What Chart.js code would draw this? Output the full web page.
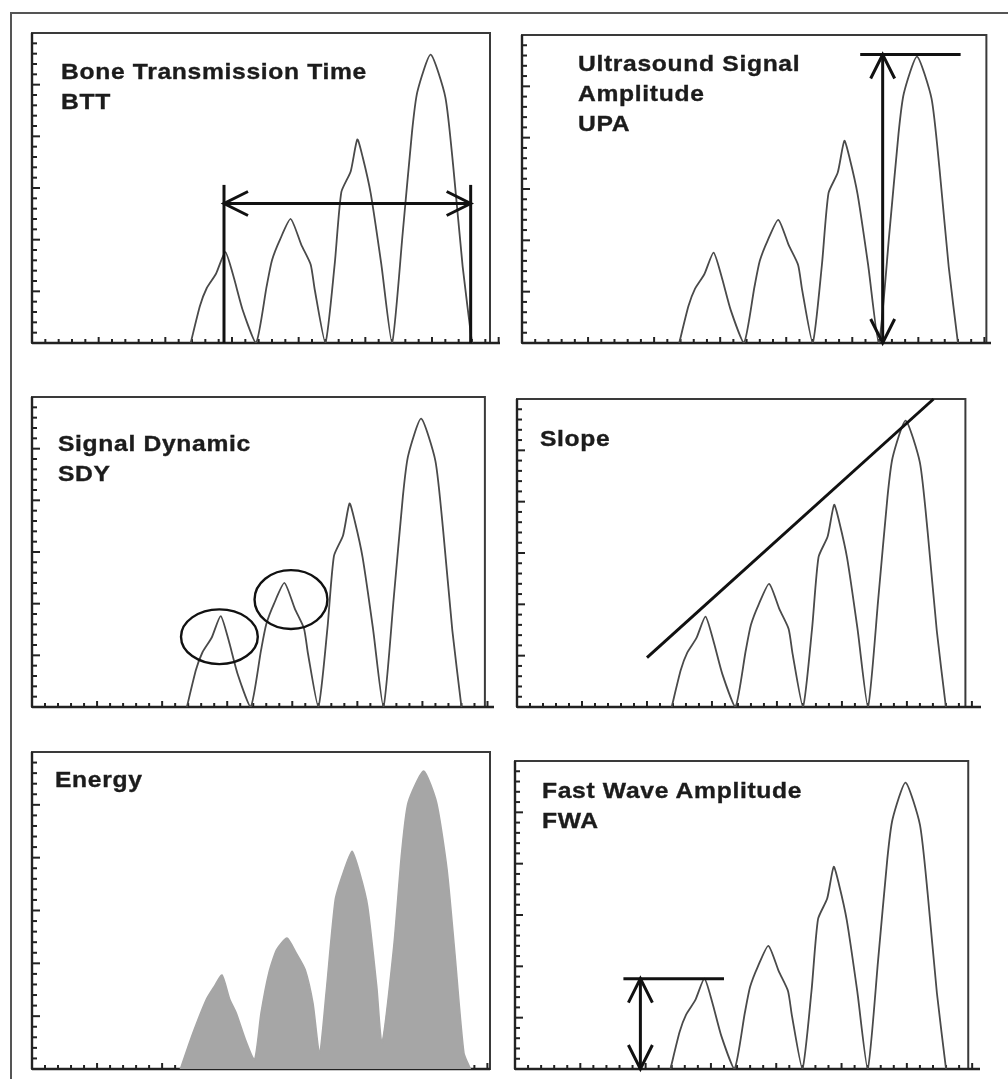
<!DOCTYPE html>
<html>
<head>
<meta charset="utf-8">
<script src="https://cdn.jsdelivr.net/npm/chart.js@4.4.0/dist/chart.umd.min.js"></script>
<style>
body{margin:0;background:#fff;width:1008px;height:1079px;overflow:hidden;position:relative;font-family:"Liberation Sans",Arial,sans-serif;}
#outer{position:absolute;left:10px;top:12px;width:1100px;height:1100px;border-left:2px solid #555;border-top:2px solid #555;}
canvas{position:absolute;}
.label{position:absolute;font-weight:bold;font-size:22px;line-height:30px;color:#1c1c1c;letter-spacing:0.6px;white-space:nowrap;
       transform:scaleX(1.12);transform-origin:0 0;-webkit-text-stroke:0.35px #1c1c1c;}
</style>
</head>
<body>
<div id="outer"></div>
<script>
// ultrasound signal (x and y in tick units)
var wave_x = [11.9, 12.6, 13.1, 13.8, 14.5, 15.1, 15.8, 16.8, 17.6, 18.0, 18.6, 19.4, 20.2, 20.9, 21.2, 22.0,
              22.7, 23.2, 23.9, 24.4, 24.8, 25.4, 26.2, 27.0, 27.8, 28.5, 28.9, 29.9, 31.0, 31.6, 32.3, 33.0];
var wave_y = [0, 3.6, 5.3, 6.7, 8.8, 6.5, 3.2, 0, 5.5, 8.0, 10.0, 12.0, 9.5, 7.6, 5.2, 0,
              7.6, 14.6, 16.6, 19.7, 18.0, 14.5, 7.6, 0, 10.6, 20.4, 24.3, 27.9, 23.8, 17.0, 7.4, 0];

// energy envelope (grey filled panel)
var energy_x = [11.4, 12.3, 13.4, 14.0, 14.6, 15.2, 15.7, 16.4, 17.1, 17.6, 18.2, 18.8, 19.6, 20.3, 21.0, 21.6, 22.1,
                22.6, 23.3, 23.9, 24.6, 25.2, 25.8, 26.5, 26.9, 27.8, 28.4, 28.9, 30.1, 31.1, 31.9, 32.5, 33.2, 33.7];
var energy_y = [0, 3.2, 6.6, 7.8, 8.9, 6.6, 5.3, 2.8, 0.9, 5.3, 9.1, 11.3, 12.4, 11.0, 9.4, 6.2, 1.5,
                7.2, 16.0, 18.5, 20.6, 18.5, 15.4, 7.8, 2.5, 11.6, 20.4, 25.2, 28.2, 25.2, 18.9, 11.0, 1.5, 0];

// annotation marks (data units)
var btt_x = [14.4, 32.9];   // vertical bars
var btt_bar_top = 15.3;
var btt_arrow_y = 13.5;
var upa_x = 27.3;           // vertical arrow
var upa_top = 28.1;
var upa_bar = [25.6, 33.2]; // horizontal line at the top
var sdy_cx = [14.4, 19.9];  // circles round the first two peaks
var sdy_cy = [6.8, 10.4];
var sdy_rx = [2.95, 2.8];
var sdy_ry = [2.65, 2.85];
var slope_x = [10.0, 32.05];
var slope_y = [4.8, 30];
var fwa_x = 9.6;
var fwa_top = 8.8;
var fwa_bar = [8.3, 16.0];

var y_max = 30;
var pad = 20;

function draw_head(ctx, tx, ty, dx, dy){ // open V head, d = direction back along the shaft
  var len = 24, half = 12;
  var px = -dy, py = dx;
  ctx.beginPath();
  ctx.moveTo(tx + dx*len + px*half, ty + dy*len + py*half);
  ctx.lineTo(tx, ty);
  ctx.lineTo(tx + dx*len - px*half, ty + dy*len - py*half);
  ctx.stroke();
}

function line(ctx, x1, y1, x2, y2){
  ctx.beginPath();
  ctx.moveTo(x1, y1);
  ctx.lineTo(x2, y2);
  ctx.stroke();
}

var panels = [
  {left:32,  top:33,  bottom:343,  unit:13.33, frame_end:34.35, axis_end:35.1, label:["Bone Transmission Time","BTT"], lx:61,  ly:57,
   annotate:function(ctx, xs, ys){
     var a = xs.getPixelForValue(btt_x[0]), b = xs.getPixelForValue(btt_x[1]);
     var top = ys.getPixelForValue(btt_bar_top), bot = ys.getPixelForValue(0), y = ys.getPixelForValue(btt_arrow_y);
     line(ctx, a, top, a, bot);
     line(ctx, b, top, b, bot);
     line(ctx, a, y, b, y);
     draw_head(ctx, a, y, 1, 0);
     draw_head(ctx, b, y, -1, 0);
   }},
  {left:522, top:35,  bottom:343,  unit:13.2,  frame_end:35.15, axis_end:35.5, label:["Ultrasound Signal","Amplitude","UPA"], lx:578, ly:49,
   annotate:function(ctx, xs, ys){
     var x = xs.getPixelForValue(upa_x), top = ys.getPixelForValue(upa_top), bot = ys.getPixelForValue(0);
     line(ctx, xs.getPixelForValue(upa_bar[0]), top, xs.getPixelForValue(upa_bar[1]), top);
     line(ctx, x, top, x, bot);
     draw_head(ctx, x, top, 0, 1);
     draw_head(ctx, x, bot, 0, -1);
   }},
  {left:32,  top:397, bottom:707,  unit:13.0,  frame_end:34.8,  axis_end:35.5, label:["Signal Dynamic","SDY"], lx:58, ly:429,
   annotate:function(ctx, xs, ys){
     ctx.lineWidth = 2.4;
     for(var i=0;i<sdy_cx.length;i++){
       var cx = xs.getPixelForValue(sdy_cx[i]), cy = ys.getPixelForValue(sdy_cy[i]);
       var rx = xs.getPixelForValue(sdy_cx[i] + sdy_rx[i]) - cx;
       var ry = cy - ys.getPixelForValue(sdy_cy[i] + sdy_ry[i]);
       ctx.beginPath();
       ctx.ellipse(cx, cy, rx, ry, 0, 0, Math.PI*2);
       ctx.stroke();
     }
   }},
  {left:517, top:399, bottom:707,  unit:13.0,  frame_end:34.5,  axis_end:35.7, label:["Slope"], lx:540, ly:424,
   annotate:function(ctx, xs, ys){
     line(ctx, xs.getPixelForValue(slope_x[0]), ys.getPixelForValue(slope_y[0]),
               xs.getPixelForValue(slope_x[1]), ys.getPixelForValue(slope_y[1]));
   }},
  {left:32,  top:752, bottom:1069, unit:13.0,  frame_end:35.2,  axis_end:35.2, label:["Energy"], lx:55, ly:765, filled:true},
  {left:515, top:761, bottom:1069, unit:13.07, frame_end:34.7,  axis_end:35.6, label:["Fast Wave Amplitude","FWA"], lx:542, ly:776,
   annotate:function(ctx, xs, ys){
     var x = xs.getPixelForValue(fwa_x), top = ys.getPixelForValue(fwa_top), bot = ys.getPixelForValue(0);
     line(ctx, xs.getPixelForValue(fwa_bar[0]), top, xs.getPixelForValue(fwa_bar[1]), top);
     line(ctx, x, top, x, bot);
     draw_head(ctx, x, top, 0, 1);
     draw_head(ctx, x, bot, 0, -1);
   }}
];

// frame, inside ticks and the marks drawn on top, one plugin per panel
function make_frame_plugin(p){
  return {
    id:'frame',
    beforeDatasetsDraw:function(chart){
      var ctx = chart.ctx, xs = chart.scales.x, ys = chart.scales.y;
      var l = xs.getPixelForValue(0), r = xs.getPixelForValue(p.frame_end), e = xs.getPixelForValue(p.axis_end);
      var t = ys.getPixelForValue(y_max), b = ys.getPixelForValue(0);
      ctx.save();
      ctx.strokeStyle = '#3a3a3a';
      ctx.lineWidth = 2;
      ctx.strokeRect(l, t, r - l, b - t);
      ctx.strokeStyle = '#222';
      ctx.lineWidth = 2.4;
      line(ctx, l, t, l, b);
      line(ctx, l, b, e, b);
      ctx.lineWidth = 2;
      for(var i=1;i<=Math.floor(p.axis_end);i++){ // x ticks, inside
        var x = xs.getPixelForValue(i);
        line(ctx, x, b, x, b - (i%5==0 ? 6 : 4));
      }
      for(var j=1;j<y_max;j++){ // y ticks, inside
        var y = ys.getPixelForValue(j);
        line(ctx, l, y, l + (j%5==0 ? 8 : 5), y);
      }
      ctx.restore();
    },
    afterDatasetsDraw:function(chart){
      if(!p.annotate) return;
      var ctx = chart.ctx;
      ctx.save();
      ctx.strokeStyle = '#111';
      ctx.lineWidth = 3;
      p.annotate(ctx, chart.scales.x, chart.scales.y);
      ctx.restore();
    }
  };
}

function create_panel(p){
  var width = p.unit*p.axis_end;
  var canvas = document.createElement('canvas');
  canvas.width  = Math.round(width) + pad*2;
  canvas.height = (p.bottom - p.top) + pad*2;
  canvas.style.left = (p.left - pad) + 'px';
  canvas.style.top  = (p.top - pad) + 'px';
  document.body.appendChild(canvas);

  var xv = p.filled ? energy_x : wave_x;
  var yv = p.filled ? energy_y : wave_y;
  var points = xv.map(function(x, i){ return {x:x, y:yv[i]}; });

  new Chart(canvas.getContext('2d'), {
    type:'line',
    data:{
      datasets:[{
        data:points,
        borderColor: p.filled ? '#a6a6a6' : '#4a4a4a',
        backgroundColor:'#a6a6a6',
        borderWidth: p.filled ? 1.5 : 1.8,
        fill: p.filled ? 'origin' : false,
        pointRadius:0,
        tension:0.2
      }]
    },
    options:{
      responsive:false,
      animation:false,
      layout:{padding:pad},
      scales:{
        x:{type:'linear', min:0, max:p.axis_end, display:false},
        y:{type:'linear', min:0, max:y_max, display:false}
      },
      plugins:{
        legend:{display:false},
        tooltip:{enabled:false}
      }
    },
    plugins:[make_frame_plugin(p)]
  });

  var label = document.createElement('div');
  label.className = 'label';
  label.style.left = p.lx + 'px';
  label.style.top  = p.ly + 'px';
  label.innerHTML = p.label.join('<br>');
  document.body.appendChild(label);
}

for(var i=0;i<panels.length;i++){
  create_panel(panels[i]);
}
</script>
</body>
</html>
